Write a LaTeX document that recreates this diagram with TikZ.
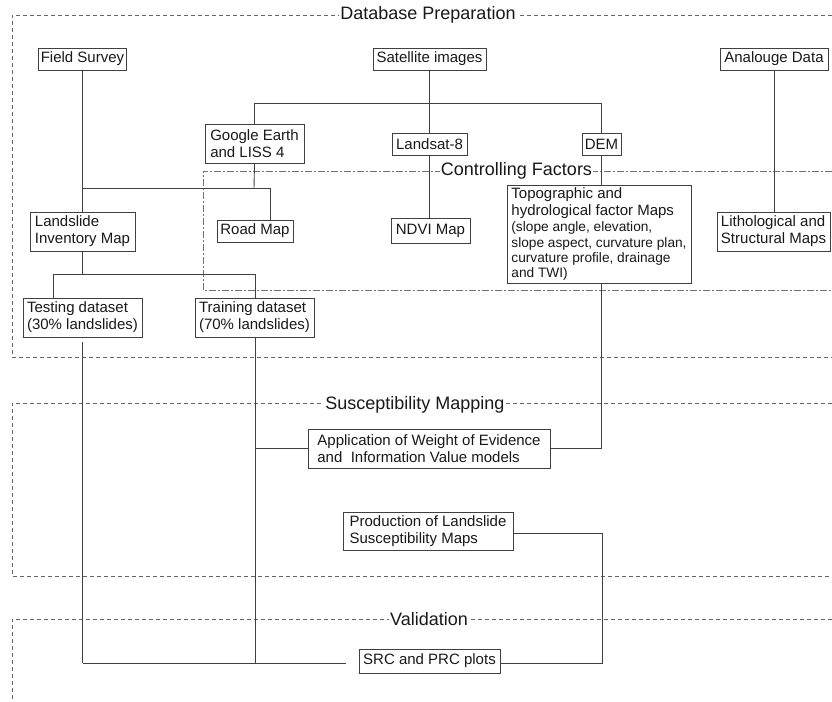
\documentclass[tikz,border=0pt]{standalone}
\usepackage{fontspec}
\setmainfont{Liberation Sans}
\begin{document}
\begin{tikzpicture}[x=1pt,y=-1pt,
  box/.style={draw=black!75, line width=0.9pt, inner sep=2pt, align=left,
    font=\fontsize{15}{17}\selectfont, text=black!90},
  frame/.style={draw=black!60, line width=0.7pt, dash pattern=on 4pt off 3pt},
  cframe/.style={draw=black!55, line width=0.7pt, dash pattern=on 7pt off 2pt on 2pt off 2pt},
  ttl/.style={fill=white, inner sep=1pt, font=\fontsize{18}{20}\selectfont, text=black!90},
  link/.style={draw=black!75, line width=0.9pt}]
\useasboundingbox (0,0) rectangle (832,701);
\fill[white] (0,0) rectangle (832,701);

% frames
\draw[frame] (832,15) -- (12,15) -- (12,357) -- (832,357);
\draw[cframe] (832,171) -- (203,171) -- (203,290) -- (832,290);
\draw[frame] (832,403) -- (12,403) -- (12,576) -- (832,576);
\draw[frame] (832,619) -- (12,619) -- (12,701);

\node[ttl] (tdb) at (428,15) {Database Preparation};
\node[ttl] (tcf) at (516.5,171) {Controlling Factors};
\node[ttl] (tsm) at (415,405) {Susceptibility Mapping};
\node[ttl] (tva) at (429,619) {Validation};

% boxes
\node[box, minimum width=87pt, minimum height=22pt] (fs) at (82.5,59) {Field Survey};
\node[box, minimum width=113pt, minimum height=22pt] (sat) at (429.5,59) {Satellite images};
\node[box, minimum width=108pt, minimum height=22pt] (ana) at (774,59) {Analouge Data};
\node[box, minimum width=99pt, minimum height=39pt] (ge) at (254.5,143.5) {Google Earth\\and LISS 4};
\node[box, minimum width=75pt, minimum height=22pt] (ls8) at (429.5,144) {Landsat-8};
\node[box, minimum width=39pt, minimum height=22pt, inner sep=1pt] (dem) at (601.5,144) {DEM};
\node[box, minimum width=105pt, minimum height=39pt] (lim) at (82.5,231.5) {Landslide\\Inventory Map};
\node[box, minimum width=76pt, minimum height=22pt] (road) at (255,231) {Road Map};
\node[box, minimum width=79pt, minimum height=25pt] (ndvi) at (430.5,230.5) {NDVI Map};
\node[box, minimum width=184pt, minimum height=98pt, inner sep=1pt] (topo) at (599,234)
  {Topographic and\\hydrological factor Maps\\[-1pt]
   {\fontsize{13.7}{15}\selectfont (slope angle, elevation,}\\[-1pt]
   {\fontsize{13.7}{15}\selectfont slope aspect, curvature plan,}\\[-2pt]
   {\fontsize{13.7}{15}\selectfont curvature profile, drainage}\\[-2pt]
   {\fontsize{13.7}{15}\selectfont and TWI)}};
\node[box, minimum width=113pt, minimum height=39pt] (lith) at (773.5,231.5) {Lithological and\\Structural Maps};
\node[box, minimum width=119pt, minimum height=39pt] (test) at (82.5,317.5) {Testing dataset\\(30\% landslides)};
\node[box, minimum width=119pt, minimum height=39pt] (train) at (254.5,317.5) {Training dataset\\(70\% landslides)};
\node[box, minimum width=242pt, minimum height=39pt] (app) at (429,448.5) {Application of Weight of Evidence\\and\ \ Information Value models};
\node[box, minimum width=170pt, minimum height=38pt] (prod) at (428,531.5) {Production of Landslide\\Susceptibility Maps};
\node[box, minimum width=141pt, minimum height=24pt] (src) at (429.5,661) {SRC and PRC plots};

% junction coordinates
\coordinate (jsat) at (429,103);
\coordinate (jge) at (254,188);
\coordinate (jlim) at (82.5,274);
\coordinate (jtr) at (255,448);
\coordinate (jbot) at (82.5,663);

% connectors
\draw[link] (sat.south) -- (ls8.north);
\draw[link] (ge.north) -- (ge.north |- jsat) -- ([xshift=-0.5pt]dem.north |- jsat) -- ([xshift=-0.5pt]dem.north);
\draw[link] (ls8.south) -- (ls8.south |- ndvi.north);
\draw[link] ([xshift=-0.5pt]dem.south) -- ([xshift=-0.5pt]dem.south |- topo.north);
\draw[link] (ana.south) -- (ana.south |- lith.north);
\draw[link] (fs.south) -- (lim.north);
\draw[link] (ge.south) -- (jge);
\draw[link] (fs.south |- jge) -- (270,188) -- (270,188 |- road.north);
\draw[link] (lim.south) -- (jlim);
\draw[link] (53,274) -- (255,274);
\draw[link] (53,274) -- (53,274 |- test.north);
\draw[link] (255,274) -- (255,274 |- train.north);
\draw[link] ([yshift=-5pt]test.south) -- (jbot);
\draw[link, shorten >=13pt] (jbot) -- (src.west |- jbot);
\draw[link] (train.south -| 255,0) -- (255,663);
\draw[link] (jtr) -- (app.west |- jtr);
\draw[link] ([xshift=2.5pt]topo.south) -- ([xshift=2.5pt]topo.south |- jtr) -- (app.east |- jtr);
\draw[link] (prod.east |- 0,533) -- (602,533) -- (602,663) -- (src.east |- 0,663);
\end{tikzpicture}
\end{document}
